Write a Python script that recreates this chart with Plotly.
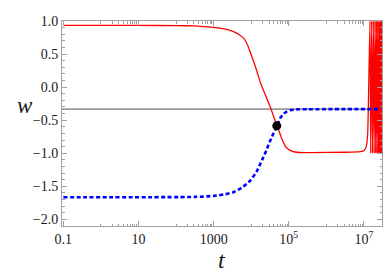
import plotly.graph_objects as go

# ---- data (log10 t, w) ----
red_logt = [-1.0, 1.0, 2.0, 2.5, 3.0, 3.2, 3.44, 3.6, 3.7, 3.8, 3.9, 3.98, 4.1, 4.25, 4.4, 4.52, 4.6, 4.69,
            4.75, 4.8, 4.86, 4.91, 4.98, 5.05, 5.12, 5.22, 5.4, 5.6, 6.5, 6.9, 7.0, 7.06, 7.1,
            7.16, 7.18, 7.205, 7.228, 7.25, 7.272, 7.293, 7.312, 7.33, 7.348, 7.365, 7.383, 7.40,
            7.414, 7.427, 7.44, 7.453, 7.466, 7.48]
red_w = [0.935, 0.933, 0.93, 0.925, 0.905, 0.89, 0.86, 0.82, 0.785, 0.74, 0.64, 0.52, 0.33, 0.06, -0.15, -0.32,
         -0.45, -0.59, -0.68, -0.76, -0.84, -0.895, -0.935, -0.96, -0.975, -0.985, -0.99, -0.99, -0.985,
         -0.975, -0.96, -0.90, -0.7,
         1.0, -1.0, 1.0, -1.0, 1.0, -1.0, 1.0, -1.0, 1.0, -1.0, 1.0, -1.0, 1.0,
         -1.0, 1.0, -1.0, 1.0, -1.0, 1.0]

blue_logt = [-1.0, 2.5, 3.0, 3.3, 3.52, 3.75, 3.98, 4.15, 4.29, 4.4, 4.49, 4.56, 4.69, 4.78, 4.87, 4.95,
             5.04, 5.2, 5.5, 7.45]
blue_w = [-1.665, -1.66, -1.645, -1.62, -1.59, -1.52, -1.41, -1.27, -1.1, -0.96, -0.83, -0.74, -0.58, -0.46,
          -0.40, -0.37, -0.35, -0.337, -0.334, -0.333]

ref_w = [-1/3, -1/3]
ref_logt = [-1.1, 7.6]

dot_logt = [4.68]
dot_w = [-0.585]

x_tickvals = [0.1, 10, 1000, 1e5, 1e7]
x_ticktext = ["0.1", "10", "1000", "10<sup>5</sup>", "10<sup>7</sup>"]
y_tickvals = [1.0, 0.5, 0.0, -0.5, -1.0, -1.5, -2.0]
y_ticktext = ["1.0", "0.5", "0.0", "\u22120.5", "\u22121.0", "\u22121.5", "\u22122.0"]

to_t = lambda arr: [10 ** v for v in arr]

SERIF = "Liberation Serif"

fig = go.Figure()
fig.add_trace(go.Scatter(x=to_t(ref_logt), y=ref_w, mode="lines",
                         line=dict(color="#9a9a9a", width=1.6), hoverinfo="skip"))
fig.add_trace(go.Scatter(x=to_t(red_logt), y=red_w, mode="lines",
                         line=dict(color="#ff0000", width=1.3, shape="spline", smoothing=0.3)))
fig.add_trace(go.Scatter(x=to_t(blue_logt), y=blue_w, mode="lines",
                         line=dict(color="#0000ff", width=2.6, dash="4px,2.5px", shape="spline",
                                   smoothing=0.6)))
fig.add_trace(go.Scatter(x=to_t(dot_logt), y=dot_w, mode="markers",
                         marker=dict(color="black", size=9)))

minor_x = []
for m in x_tickvals:
    for k in range(1, 10):
        minor_x.append(m * 10 * k)

axis_common = dict(showline=True, linecolor="#a0a0a0", linewidth=1, mirror="allticks",
                   ticks="inside", tickcolor="#a0a0a0", ticklen=5, showgrid=False, zeroline=False,
                   tickfont=dict(family=SERIF, size=14, color="#1a1a1a"))

fig.update_xaxes(type="log", range=[-1.035, 7.48], tickmode="array", tickvals=x_tickvals,
                 ticktext=x_ticktext,
                 minor=dict(ticks="inside", tickmode="array", tickvals=minor_x, ticklen=2.5,
                            tickcolor="#a0a0a0"),
                 **axis_common)
fig.update_yaxes(range=[-2.1, 1.0], tickmode="array", tickvals=y_tickvals, ticktext=y_ticktext,
                 minor=dict(ticks="inside", dtick=0.1, tick0=0, ticklen=2.5, tickcolor="#a0a0a0"),
                 **axis_common)

fig.add_annotation(text="<i>w</i>", xref="paper", yref="paper", x=-0.148, y=0.59, showarrow=False,
                   font=dict(family=SERIF, size=23, color="#1a1a1a"))
fig.add_annotation(text="<i>t</i>", xref="paper", yref="paper", x=0.5, y=-0.165, yanchor="middle",
                   showarrow=False, font=dict(family=SERIF, size=24, color="#1a1a1a"))

fig.update_layout(width=390, height=279, margin=dict(l=62, r=8, t=21, b=53),
                  plot_bgcolor="white", paper_bgcolor="white", showlegend=False,
                  font=dict(family=SERIF))

fig.write_html("out.html", config={"displayModeBar": False},
               post_script="document.body.style.margin='0';document.body.style.padding='0';")
